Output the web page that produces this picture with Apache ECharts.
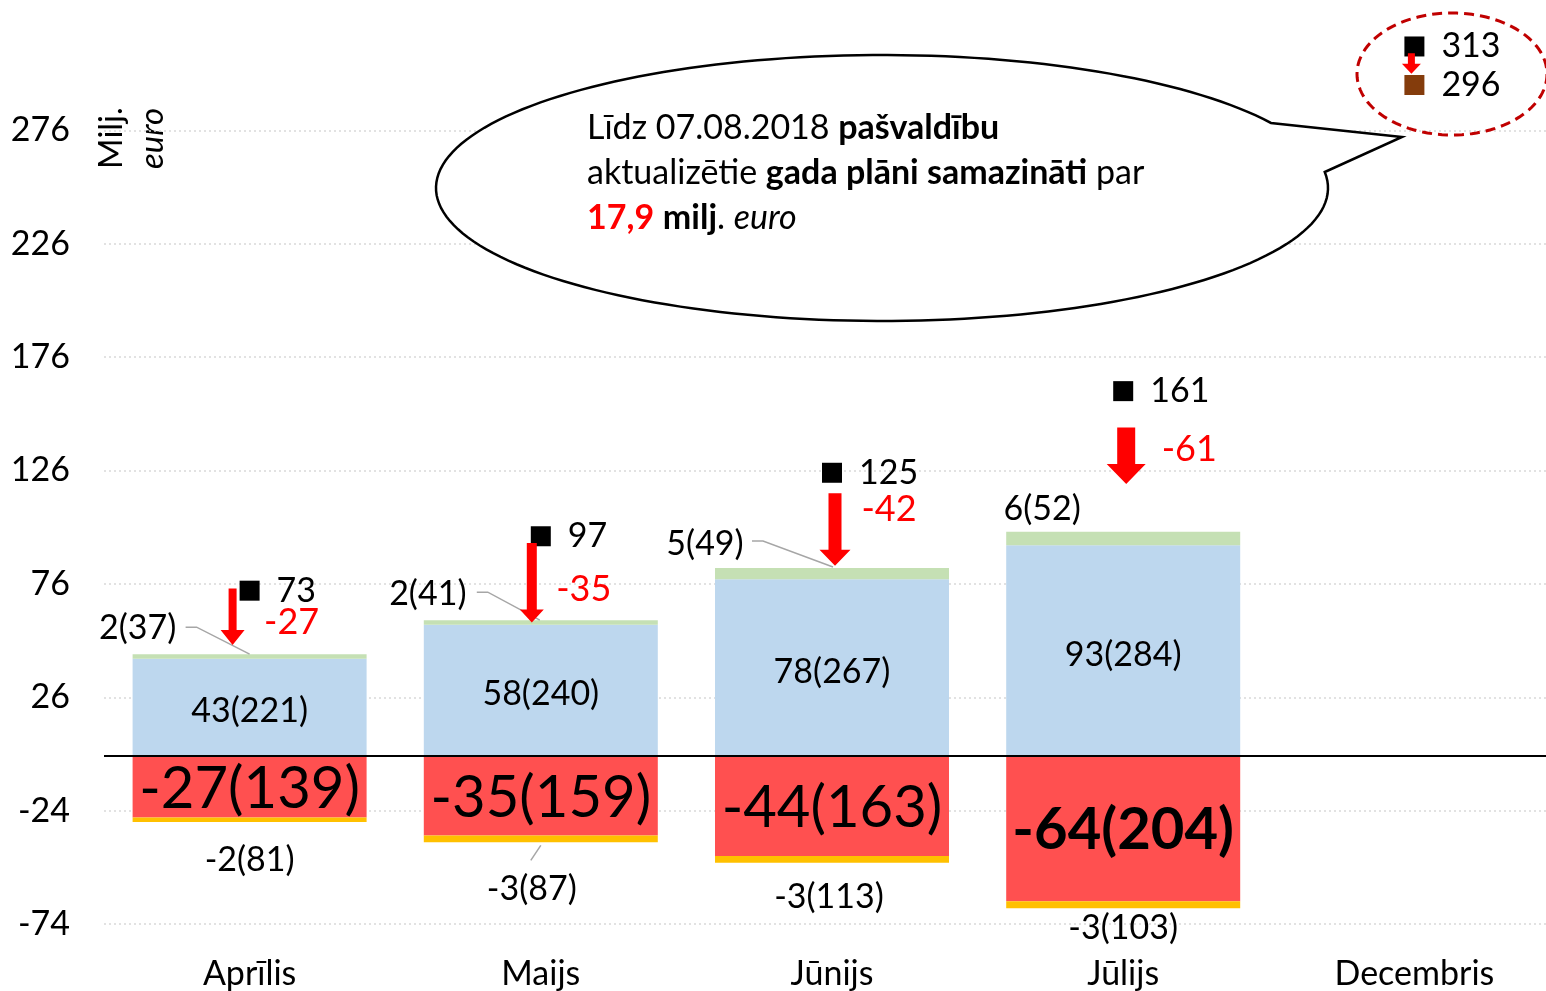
<!DOCTYPE html>
<html>
<head>
<meta charset="utf-8">
<script src="https://cdn.jsdelivr.net/npm/echarts@6/dist/echarts.min.js"></script>
<style>
    html, body { margin: 0; padding: 0; background: #fff; overflow: hidden; }
    #chart { width: 1546px; height: 991px; }
</style>
</head>
<body>
<div id="chart"></div>
<script>
var months = ['Aprīlis', 'Maijs', 'Jūnijs', 'Jūlijs', 'Decembris'];

// budzeta izpilde, milj. euro (iekavās - pašvaldību skaits)
var blueVals = [43, 58, 78, 93];
var blueCounts = [221, 240, 267, 284];
var greenVals = [2, 2, 5, 6];
var greenCounts = [37, 41, 49, 52];
var redVals = [-27, -35, -44, -64];
var redCounts = [139, 159, 163, 204];
var yellowVals = [-2, -3, -3, -3];
var yellowCounts = [81, 87, 113, 103];

// plāni (melnie kvadrāti), Decembrī - samazinātais plāns (brūns)
var planVals = [73, 97, 125, 161, 313];
var planDecReduced = 296;

// bultas: no / līdz un starpības
var arrowFrom = [74, 94, 116, 145, 310];
var arrowTo = [49, 59, 84, 120, 301];
var arrowLabels = ['-27', '-35', '-42', '-61', ''];

var yTicksMin = -74, yTicksMax = 326, yStep = 50;

var FONT = 'Lato, "Noto Sans", sans-serif';
var FS = 34;

// izkārtojums (pikseļi)
var arrowLayout = [
    {dx: -17, shaft: 8, head: 24, headLen: 15, lx: 59, ly: 34},
    {dx: -9, shaft: 10, head: 24, headLen: 13, lx: 52, ly: 46},
    {dx: 3, shaft: 13, head: 31, headLen: 16, lx: 54, ly: 16},
    {dx: 3, shaft: 18, head: 39, headLen: 20, lx: 63, ly: 22},
    {dx: -3, shaft: 7, head: 19, headLen: 10, lx: 0, ly: 0}
];
var greenLabelLayout = [
    {dx: -112, dy: -26, line: [[-64, -27], [-53, -27], [0, 0]]},
    {dx: -113, dy: -26, line: [[-64, -28], [-53, -28], [-1, 0]]},
    {dx: -127, dy: -24, line: [[-80, -27], [-69, -27], [1, -1]]},
    {dx: -81, dy: -23, line: null}
];
var yellowLabelLayout = [
    {dx: 0, dy: 38, line: null},
    {dx: -9, dy: 47, line: [[0, 3], [-10, 18]]},
    {dx: -3, dy: 34, line: null},
    {dx: 0, dy: 20, line: null}
];

function pad(arr) {
    return arr.concat(['-']);
}

// elipses kontūra kā punktu virkne
function ellipsePoints(cx, cy, rx, ry, a0, a1, n) {
    var pts = [];
    for (var k = 0; k <= n; k++) {
        var a = (a0 + (a1 - a0) * k / n) * Math.PI / 180;
        pts.push([cx + rx * Math.cos(a), cy + ry * Math.sin(a)]);
    }
    return pts;
}

var bubblePts = ellipsePoints(882, 188, 446, 133, -6.9, 330.7, 180);
bubblePts.push([1402, 137]);
var dashedPts = ellipsePoints(1452, 74, 95, 61, 0, 360, 120);

var chart = echarts.init(document.getElementById('chart'));

function renderArrows(params, api) {
    var i = params.dataIndex;
    var L = arrowLayout[i];
    var top = api.coord([api.value(0), api.value(1)]);
    var tip = api.coord([api.value(0), api.value(2)]);
    var x = top[0] + L.dx;
    var sw = L.shaft / 2, hw = L.head / 2, hy = tip[1] - L.headLen;
    var children = [{
        type: 'polygon',
        shape: {points: [[x - sw, top[1]], [x + sw, top[1]], [x + sw, hy], [x + hw, hy],
            [x, tip[1]], [x - hw, hy], [x - sw, hy]]},
        style: {fill: '#FF0000'}
    }];
    if (arrowLabels[i]) {
        children.push({
            type: 'text',
            x: x + L.lx, y: top[1] + L.ly,
            style: {text: arrowLabels[i], fill: '#FF0000', font: '36px ' + FONT,
                align: 'center', verticalAlign: 'middle'}
        });
    }
    return {type: 'group', children: children};
}

function renderSideLabels(layouts, texts) {
    return function (params, api) {
        var i = params.dataIndex;
        var L = layouts[i];
        var p = api.coord([api.value(0), api.value(1)]);
        var children = [{
            type: 'text',
            x: p[0] + L.dx, y: p[1] + L.dy,
            style: {text: texts[i], fill: '#000', font: FS + 'px ' + FONT,
                align: 'center', verticalAlign: 'middle'}
        }];
        if (L.line) {
            children.push({
                type: 'polyline',
                shape: {points: L.line.map(function (q) { return [p[0] + q[0], p[1] + q[1]]; })},
                style: {stroke: '#A6A6A6', lineWidth: 1.5, fill: null}
            });
        }
        return {type: 'group', children: children};
    };
}

var greenTexts = greenVals.map(function (v, i) { return v + '(' + greenCounts[i] + ')'; });
var yellowTexts = yellowVals.map(function (v, i) { return v + '(' + yellowCounts[i] + ')'; });

var greenTopData = blueVals.map(function (v, i) { return [i, v + greenVals[i]]; });
var yellowBottomData = redVals.map(function (v, i) { return [i, v + yellowVals[i]]; });
var arrowData = arrowFrom.map(function (v, i) { return [i, v, arrowTo[i]]; });

var redData = redVals.map(function (v, i) {
    var item = {value: v};
    if (i === redVals.length - 1) {
        item.label = {fontWeight: 'bold'};
    }
    return item;
});

var option = {
    backgroundColor: '#fff',
    animation: false,
    textStyle: {fontFamily: FONT},
    grid: {left: 104, width: 1456, top: 17, bottom: 67, outerBoundsMode: 'none', containLabel: false},
    xAxis: {
        type: 'category',
        data: months,
        axisLine: {show: false},
        axisTick: {show: false},
        axisLabel: {color: '#000', fontSize: FS, margin: 33, fontFamily: FONT}
    },
    yAxis: {
        type: 'value',
        min: yTicksMin,
        max: yTicksMax,
        interval: yStep,
        axisLine: {show: false},
        axisTick: {show: false},
        axisLabel: {color: '#000', fontSize: FS, margin: 34, fontFamily: FONT, showMaxLabel: false},
        splitLine: {show: true, showMaxLine: false, lineStyle: {color: '#D9D9D9', width: 1.5, type: [2, 3]}}
    },
    series: [
        {
            name: 'blue', type: 'bar', stack: 'total', barWidth: 234,
            data: pad(blueVals),
            itemStyle: {color: '#BDD7EE'},
            label: {
                show: true, position: 'inside', color: '#000', fontSize: FS, fontFamily: FONT,
                offset: [0, 4],
                formatter: function (p) { return p.value + '(' + blueCounts[p.dataIndex] + ')'; }
            },
            markLine: {
                silent: true, symbol: 'none', label: {show: false},
                lineStyle: {color: '#000', width: 2, type: 'solid'},
                data: [{yAxis: 0}]
            }
        },
        {
            name: 'green', type: 'bar', stack: 'total', barWidth: 234,
            data: pad(greenVals),
            itemStyle: {color: '#C5E0B4'}
        },
        {
            name: 'red', type: 'bar', stack: 'total', barWidth: 234,
            data: pad(redData),
            itemStyle: {color: '#FF5050'},
            label: {
                show: true, position: 'inside', color: '#000', fontSize: 58, fontFamily: FONT,
                offset: [0, 2],
                formatter: function (p) { return p.value + '(' + redCounts[p.dataIndex] + ')'; }
            }
        },
        {
            name: 'yellow', type: 'bar', stack: 'total', barWidth: 234,
            data: pad(yellowVals),
            itemStyle: {color: '#FFC000'}
        },
        {
            name: 'plan', type: 'scatter', symbol: 'rect', symbolSize: 20,
            data: planVals.map(function (v, i) { return [i, v]; }),
            itemStyle: {color: '#000', opacity: 1},
            label: {
                show: true, position: 'right', distance: 17, color: '#000', fontSize: FS,
                fontFamily: FONT, formatter: function (p) { return p.value[1]; }
            },
            z: 5
        },
        {
            name: 'planReduced', type: 'scatter', symbol: 'rect', symbolSize: 20,
            data: [[4, planDecReduced]],
            itemStyle: {color: '#843C0C', opacity: 1},
            label: {
                show: true, position: 'right', distance: 17, color: '#000', fontSize: FS,
                fontFamily: FONT, formatter: function (p) { return p.value[1]; }
            },
            z: 5
        },
        {
            name: 'arrows', type: 'custom', renderItem: renderArrows,
            data: arrowData, encode: {x: 0, y: [1, 2]}, z: 6, clip: false
        },
        {
            name: 'greenLabels', type: 'custom', renderItem: renderSideLabels(greenLabelLayout, greenTexts),
            data: greenTopData, encode: {x: 0, y: 1}, z: 4, clip: false
        },
        {
            name: 'yellowLabels', type: 'custom', renderItem: renderSideLabels(yellowLabelLayout, yellowTexts),
            data: yellowBottomData, encode: {x: 0, y: 1}, z: 4, clip: false
        }
    ],
    graphic: [
        // runas burbulis
        {
            type: 'polygon', z: 100,
            shape: {points: bubblePts},
            style: {fill: '#fff', stroke: '#000', lineWidth: 2.5}
        },
        {
            type: 'text', z: 101, x: 587, y: 173,
            style: {
                text: 'Līdz 07.08.2018 {b|pašvaldību}\naktualizētie {b|gada plāni samazināti} par\n{r|17,9} {b|milj}. {i|euro}',
                font: FS + 'px ' + FONT, fill: '#000', lineHeight: 45, verticalAlign: 'middle',
                rich: {
                    b: {fontWeight: 'bold', fontSize: FS, fontFamily: FONT, lineHeight: 45},
                    r: {fontWeight: 'bold', fontSize: FS, fontFamily: FONT, fill: '#FF0000', lineHeight: 45},
                    i: {fontStyle: 'italic', fontSize: FS, fontFamily: FONT, lineHeight: 45}
                }
            }
        },
        // sarkanā raustītā elipse
        {
            type: 'polygon', z: 90,
            shape: {points: dashedPts},
            style: {fill: null, stroke: '#C00000', lineWidth: 3, lineDash: [10, 6]}
        },
        // ass nosaukums
        {
            type: 'text', x: 111, y: 169, rotation: Math.PI / 2,
            style: {text: 'Milj.', font: '33px ' + FONT, fill: '#000', align: 'left', verticalAlign: 'middle'}
        },
        {
            type: 'text', x: 152, y: 169, rotation: Math.PI / 2,
            style: {text: 'euro', font: 'italic 33px ' + FONT, fill: '#000', align: 'left', verticalAlign: 'middle'}
        }
    ]
};

chart.setOption(option);
</script>
</body>
</html>
